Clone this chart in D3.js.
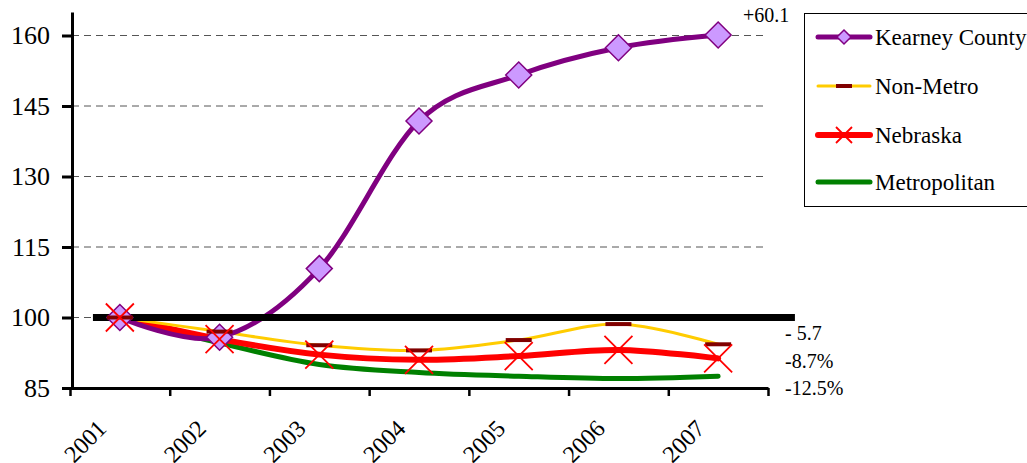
<!DOCTYPE html>
<html>
<head>
<meta charset="utf-8">
<script src="https://cdn.jsdelivr.net/npm/d3@7"></script>
<style>
  body { margin: 0; background: #fff; }
  svg { display: block; }
  svg text { font-family: "Liberation Serif", "Times New Roman", serif; }
</style>
</head>
<body>
<div id="chart"></div>
<script>
// Datos del gráfico
const years = ['2001', '2002', '2003', '2004', '2005', '2006', '2007'];
const kearney = [100, 95.8, 110.4, 141.8, 151.6, 157.4, 160.1];
const nonMetro = [100, 97.0, 94.1, 93.0, 95.2, 98.6, 94.3];
const nebraska = [100, 95.4, 92.1, 91.0, 91.8, 93.1, 91.3];
const metro = [100, 94.6, 90.0, 88.3, 87.5, 87.0, 87.5];
const yTicks = [85, 100, 115, 130, 145, 160];
const endLabels = ['+60.1', '- 5.7', '-8.7%', '-12.5%'];
const baseline = 100;

const width = 1027;
const height = 463;
const serif = '"Liberation Serif", "Times New Roman", serif';

const svg = d3.select('#chart').append('svg')
    .attr('width', width)
    .attr('height', height)
    .attr('font-family', serif);

// Escalas
const x = d3.scaleBand().domain(years).range([70, 768]).padding(0);
const xEdge = d3.scaleLinear().domain([0, years.length]).range([70, 768]);
const y = d3.scaleLinear().domain([85, 165]).range([388, 12]);
const cx = d => x(d) + x.bandwidth() / 2;

// Líneas de cuadrícula
svg.append('g')
    .selectAll('line')
    .data(yTicks.filter(t => t > 85))
    .enter()
    .append('line')
    .attr('x1', 72)
    .attr('x2', 768)
    .attr('y1', d => y(d))
    .attr('y2', d => y(d))
    .attr('stroke', '#555')
    .attr('stroke-width', 1)
    .attr('stroke-dasharray', '7,5');

// Series
const series = [
    { name: 'Kearney County', values: kearney, color: '#800080', width: 5, marker: 'diamond' },
    { name: 'Non-Metro', values: nonMetro, color: '#FFCC00', width: 3, marker: 'dash' },
    { name: 'Nebraska', values: nebraska, color: '#FF0000', width: 6, marker: 'x' },
    { name: 'Metropolitan', values: metro, color: '#008000', width: 5, marker: 'none' }
];

const line = d3.line()
    .x((d, i) => cx(years[i]))
    .y(d => y(d))
    .curve(d3.curveCatmullRom.alpha(0));

const linesG = svg.append('g');
series.slice().reverse().forEach(s => {
    linesG.append('path')
        .datum(s.values)
        .attr('d', line)
        .attr('fill', 'none')
        .attr('stroke', s.color)
        .attr('stroke-width', s.width)
        .attr('stroke-linecap', 'round')
        .attr('stroke-linejoin', 'round');
});

function drawMarker(g, type, px, py, size) {
    if (type === 'diamond') {
        g.append('path')
            .attr('d', `M${px},${py - size}L${px + size},${py}L${px},${py + size}L${px - size},${py}Z`)
            .attr('fill', '#CC99FF')
            .attr('stroke', '#800080')
            .attr('stroke-width', 1.5);
    } else if (type === 'dash') {
        g.append('line')
            .attr('x1', px - size).attr('x2', px + size)
            .attr('y1', py).attr('y2', py)
            .attr('stroke', '#800000')
            .attr('stroke-width', 4);
    } else if (type === 'x') {
        g.append('path')
            .attr('d', `M${px - size},${py - size}L${px + size},${py + size}M${px - size},${py + size}L${px + size},${py - size}`)
            .attr('stroke', '#FF0000')
            .attr('stroke-width', 1.8)
            .attr('fill', 'none');
    }
}

// Línea base (100)
svg.append('line')
    .attr('x1', cx(years[0]) - x.bandwidth() * 0.27)
    .attr('x2', cx(years[years.length - 1]) + x.bandwidth() * 0.77)
    .attr('y1', y(baseline))
    .attr('y2', y(baseline))
    .attr('stroke', '#000')
    .attr('stroke-width', 7);

// Marcadores
const markersG = svg.append('g');
const markerSize = { diamond: 13, dash: 13, x: 14 };
series.forEach(s => {
    if (s.marker === 'none') return;
    s.values.forEach((v, i) => drawMarker(markersG, s.marker, cx(years[i]), y(v), markerSize[s.marker]));
});

// Eje Y
const yAxis = svg.append('g')
    .attr('transform', 'translate(72,0)')
    .call(d3.axisLeft(y).tickValues(yTicks).tickSize(10).tickSizeOuter(0).tickPadding(12))
    .attr('font-family', serif)
    .attr('font-size', 26);
yAxis.select('.domain').attr('stroke', '#000').attr('stroke-width', 3);
yAxis.selectAll('.tick line').attr('stroke', '#000').attr('stroke-width', 3);
yAxis.selectAll('text').attr('fill', '#000');

// Eje X
const xAxis = svg.append('g')
    .attr('transform', `translate(0,${y(85)})`)
    .call(d3.axisBottom(xEdge).tickValues(d3.range(years.length + 1)).tickFormat('').tickSize(8).tickSizeOuter(0));
xAxis.select('.domain').attr('stroke', '#000').attr('stroke-width', 3);
xAxis.selectAll('.tick line').attr('stroke', '#000').attr('stroke-width', 2.5);

svg.append('g')
    .selectAll('text')
    .data(years)
    .enter()
    .append('text')
    .attr('transform', d => `translate(${cx(d) - 12},${y(85) + 42}) rotate(-45)`)
    .attr('text-anchor', 'end')
    .attr('fill', '#000')
    .attr('font-size', 24)
    .text(d => d);

// Etiquetas finales
const last = years.length - 1;
const labelPos = [
    { x: 743, y: 22 },
    { x: 785, y: y(nonMetro[last]) - 4 },
    { x: 785, y: y(nebraska[last]) + 10 },
    { x: 785, y: y(metro[last]) + 19 }
];
svg.append('g')
    .selectAll('text')
    .data(endLabels)
    .enter()
    .append('text')
    .attr('x', (d, i) => labelPos[i].x)
    .attr('y', (d, i) => labelPos[i].y)
    .attr('fill', '#000')
    .attr('font-size', 20)
    .text(d => d);

// Leyenda
const legend = svg.append('g');
legend.append('rect')
    .attr('x', 804.5)
    .attr('y', 13.5)
    .attr('width', 260)
    .attr('height', 193)
    .attr('fill', '#fff')
    .attr('stroke', '#000')
    .attr('stroke-width', 1);

const legendRows = [37, 86, 135, 182];
const legendMarkerSize = { diamond: 7, dash: 8, x: 8 };
series.forEach((s, i) => {
    const ly = legendRows[i];
    legend.append('line')
        .attr('x1', 818).attr('x2', 870)
        .attr('y1', ly).attr('y2', ly)
        .attr('stroke', s.color)
        .attr('stroke-width', s.width)
        .attr('stroke-linecap', 'round');
    if (s.marker !== 'none') drawMarker(legend, s.marker, 844, ly, legendMarkerSize[s.marker]);
    legend.append('text')
        .attr('x', 875)
        .attr('y', ly + 8)
        .attr('fill', '#000')
        .attr('font-size', 23)
        .text(s.name);
});
</script>
</body>
</html>
